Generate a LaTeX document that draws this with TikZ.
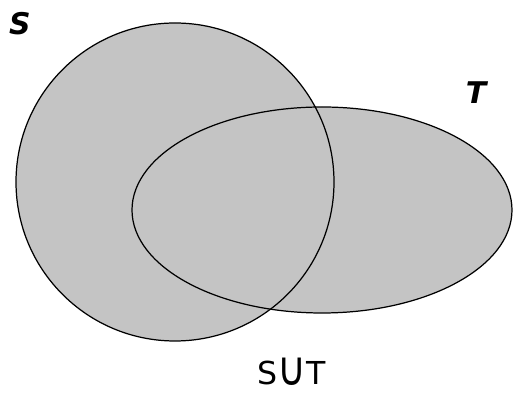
\documentclass[tikz,border=0pt]{standalone}
\usepackage{fontspec}
\setmainfont{DejaVu Sans}
\usepackage{graphicx}
\usepackage{tikz}
\usetikzlibrary{positioning}
\definecolor{setgray}{HTML}{C4C4C4}
\newcommand{\bigcupsign}{\raisebox{-0.05em}{\scalebox{1.25}[1.5]{∪}}}
\tikzset{
  setfill/.style={
    fill=setgray
  },
  setline/.style={
    draw=black,
    line width=0.7pt
  },
  setname/.style={
    font=\fontsize{17}{20}\selectfont\bfseries\itshape,
    inner sep=0pt
  },
  unionlabel/.style={
    font=\fontsize{18}{20}\selectfont,
    inner sep=0pt
  }
}

\begin{document}
\begin{tikzpicture}[x=0.02cm, y=-0.02cm]
  \useasboundingbox (0,0) rectangle (515,394);
  % shaded union
  \fill[setfill] (175,182) circle[radius=159];
  \fill[setfill] (322,210) ellipse[x radius=190, y radius=103];
  % outlines
  \draw[setline] (175,182) circle[radius=159];
  \draw[setline] (322,210) ellipse[x radius=190, y radius=103];
  % labels
  \node[setname] (sname) at (20,24) {S};
  \node[setname] (tname) at (476,93) {T};
  \node[unionlabel] (union) at (292,372) {S\bigcupsign T};
\end{tikzpicture}
\end{document}
